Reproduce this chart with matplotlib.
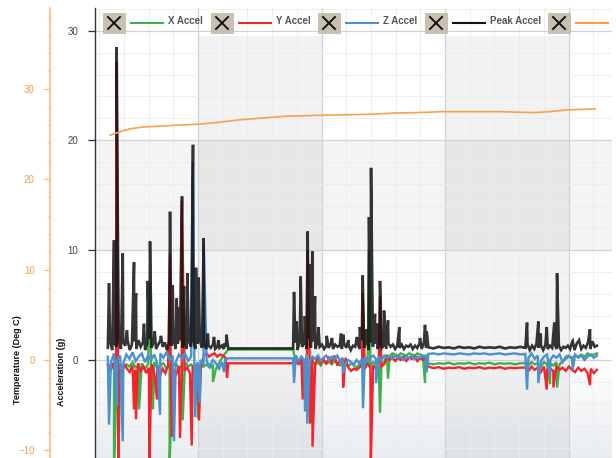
import numpy as np
import matplotlib
matplotlib.use("Agg")
import matplotlib.pyplot as plt
from matplotlib.patches import Rectangle
from matplotlib.lines import Line2D
from matplotlib.ticker import MultipleLocator

plt.rcParams["font.family"] = ["Liberation Sans", "DejaVu Sans"]

# ---- data (time in minutes, acceleration in g, temperature in deg C) ----
# recording segments: two busy stretches, a quiet stretch, a last busy stretch
spans = [(5.4, 24.9), (35.4, 57.3), (57.3, 73.0), (73.0, 84.6)]

peak_seg1 = [1.1, 1.7, 0.9, 1.5, 1.2, 1.9, 1.0, 1.6, 1.3, 1.8,
             0.9, 1.4, 1.7, 1.0, 1.8, 1.2, 1.6, 0.9, 1.5, 1.9,
             1.1, 1.7, 1.0, 1.4, 1.8, 1.2, 1.6, 0.9, 1.7, 1.3,
             1.9, 1.0, 1.5, 1.8, 1.1, 1.6, 1.0, 1.7, 1.2, 1.9,
             1.0, 1.5, 1.8, 1.1, 1.4, 1.0, 1.3, 1.1, 1.4, 1.0,
             1.2, 1.1, 1.3, 1.0, 1.2, 1.05]
peak_seg2 = [1.05, 1.6, 0.9, 1.8, 1.2, 1.5, 1.0, 1.9, 1.1, 1.7,
             1.0, 1.6, 1.2, 1.4, 1.0, 1.3, 1.1, 1.5, 1.0, 1.4,
             1.2, 1.3, 1.0, 1.5, 1.1, 1.4, 0.9, 1.3, 1.2, 1.6,
             1.0, 1.8, 1.1, 1.7, 0.9, 1.6, 1.2, 1.5, 1.0, 1.4,
             1.1, 1.3, 1.0, 1.5, 1.2, 1.4, 1.0, 1.3, 1.1, 1.4,
             1.0, 1.3, 1.2, 1.4, 1.0, 1.3, 1.1, 1.5, 1.0, 1.6,
             1.1, 1.15]
peak_quiet = [1.15, 1.05, 1.2, 1.1, 1.15, 1.05, 1.2, 1.1, 1.15, 1.05,
              1.2, 1.1, 1.15, 1.1, 1.2, 1.05, 1.15, 1.1, 1.2, 1.1]
peak_seg3 = [1.0, 1.4, 0.9, 1.3, 1.0, 1.5, 1.1, 1.3, 0.9, 1.4,
             1.0, 1.3, 1.1, 1.5, 1.0, 1.3, 0.9, 1.2, 1.1, 1.3,
             1.0, 1.7, 0.9, 1.5, 1.8, 1.0, 1.3, 1.1, 1.6, 1.0,
             1.7, 1.2, 1.3]
peak_spike_t = [5.59, 6.40, 6.83, 7.04, 7.81, 8.50, 9.64, 9.96, 11.25, 11.85,
                12.23, 13.0, 14.0, 15.47, 15.91, 16.55, 16.92, 17.2, 17.41, 17.73,
                18.27, 19.19, 19.68, 20.11, 20.92, 21.6, 22.59, 23.3, 24.21, 24.6,
                35.55, 36.0, 36.63, 37.3, 37.76, 38.14, 38.51, 38.95, 39.5, 40.84,
                41.70, 43.16, 43.53, 44.34, 45.75, 46.2, 46.67, 47.32, 47.69, 48.02,
                48.66, 49.04, 49.47, 50.12, 50.77, 52.60, 55.95, 56.76, 57.04,
                73.28, 75.11, 75.50, 76.47, 77.70, 78.14, 80.68, 83.48]
peak_spike_g = [7.0, 10.9, 28.5, 10.2, 9.7, 2.7, 8.9, 6.1, 3.3, 7.2,
                10.8, 2.6, 2.2, 13.5, 6.8, 5.6, 4.8, 7.1, 14.9, 6.7,
                7.9, 19.6, 8.4, 7.5, 11.1, 2.4, 2.1, 1.8, 1.5, 2.3,
                6.2, 3.5, 7.6, 4.0, 11.7, 8.7, 9.9, 5.8, 3.0, 2.2,
                2.0, 2.4, 2.3, 1.8, 2.1, 3.0, 7.7, 2.8, 13.0, 17.5,
                4.2, 3.3, 7.2, 4.5, 3.6, 3.0, 2.0, 3.2, 2.6,
                3.4, 3.5, 2.4, 3.0, 3.4, 7.9, 1.75, 2.8]

z_seg1 = [0.3, -0.2, 0.6, 0.0, 0.4, -0.3, 0.5, 0.1, 0.7, -0.1,
          0.3, 0.6, -0.2, 0.4, 0.0, 0.5, -0.3, 0.6, 0.2, 0.7,
          0.0, 0.4, -0.2, 0.5, 0.1, 0.6, -0.1, 0.3, 0.5, -0.2,
          0.0, -0.4, -0.1, -0.6, 0.0, -0.3, -0.8, -0.2, 0.0, 0.15]
z_seg2 = [0.15, 0.4, -0.1, 0.3, 0.0, 0.5, -0.2, 0.3, 0.1, 0.4,
          -0.1, 0.2, 0.4, 0.0, 0.3, 0.1, 0.4, -0.1, 0.2, -0.3,
          0.0, -0.2, -0.4, 0.0, -0.3, 0.1, 0.3, -0.1, 0.2, 0.4,
          0.1, 0.3, 0.0, 0.4, 0.2, 0.3, 0.1, 0.4, 0.2, 0.3,
          0.0, 0.3, 0.2, 0.4, 0.1, 0.3, 0.2, 0.4, 0.3, 0.55]
z_quiet = [0.55, 0.6, 0.5, 0.6, 0.55, 0.5, 0.6, 0.55, 0.5, 0.6,
           0.55, 0.6, 0.5, 0.55, 0.6, 0.5, 0.55, 0.6, 0.5, 0.55]
z_seg3 = [0.5, 0.2, 0.6, 0.1, 0.4, -0.1, 0.3, 0.5, 0.0, 0.4,
          0.2, 0.5, -0.2, 0.3, 0.4, 0.1, 0.5, 0.2, 0.4, 0.0,
          0.3, 0.5, 0.2, 0.4]
z_spike_t = [5.59, 6.88, 7.81, 13.85, 16.11, 19.19, 19.51, 20.3, 20.92, 24.21,
             35.55, 37.33, 37.70, 43.48, 46.72, 48.82, 57.04,
             73.28, 75.11, 77.0, 80.68]
z_spike_g = [-5.9, -4.2, -7.4, -5.0, -7.4, 18.0, -5.2, -3.9, 10.5, -1.1,
             -2.1, -4.7, -5.8, -1.2, -4.4, -2.1, -1.1,
             -2.7, -2.1, -1.5, -0.9]

y_seg1 = [-0.5, -1.0, -0.3, -0.9, -0.6, -1.2, -0.4, -0.8, -1.1, -0.5,
          -0.9, -0.3, -1.0, -0.6, -1.2, -0.7, -0.4, -1.3, -0.6, -1.5,
          -0.8, -1.2, -0.5, -1.4, -0.9, -1.3, -0.6, -1.5, -1.0, -0.7,
          -1.2, -0.5, -1.0, -0.4, -0.8, 0.4, 0.6, 0.3, 0.5, 0.6,
          0.3, 0.5, 0.4, 0.2, -0.3]
y_seg2 = [-0.3, 0.3, -0.4, 0.1, -0.5, 0.4, -0.2, 0.2, -0.5, 0.3,
          -0.3, 0.1, -0.4, 0.2, -0.2, 0.4, -0.5, 0.0, -0.3, 0.2,
          -0.7, -1.0, -0.8, -0.9, -0.7, -0.4, -0.8, -0.3, -0.7, -0.5,
          -0.8, -0.3, -0.6, -0.4, 0.3, 0.0, 0.3, -0.1, 0.2, 0.0,
          0.3, -0.1, 0.2, 0.1, 0.3, -0.1, 0.2, 0.0, 0.2, -0.6]
y_quiet = [-0.6, -0.75, -0.65, -0.8, -0.7, -0.75, -0.65, -0.8, -0.7, -0.75,
           -0.65, -0.8, -0.7, -0.75, -0.65, -0.8, -0.7, -0.75, -0.7, -0.7]
y_seg3 = [-0.7, -1.0, -0.6, -0.9, -0.7, -1.1, -0.6, -0.9, -0.8, -1.0,
          -0.6, -0.9, -0.7, -1.0, -0.6, -0.9, -1.1, -0.7, -1.0, -0.8,
          -1.2, -0.8, -1.2, -0.9]
y_spike_t = [6.83, 7.09, 9.64, 9.96, 12.12, 13.36, 15.47, 15.74, 17.08, 17.41,
             18.98, 20.16, 24.70, 36.95, 37.76, 38.14, 38.54, 43.5, 46.67, 47.97,
             49.47, 76.47, 77.55, 83.48]
y_spike_g = [27.1, -9.5, -4.5, -5.4, -9.5, -3.6, 9.7, -7.0, -7.1, 14.5,
             -7.8, -5.5, -1.6, -3.6, 10.0, -5.8, -7.9, -2.5, 6.1, -9.8,
             5.8, -2.7, -2.5, -2.3]

x_seg1 = [-0.4, -0.7, -0.2, -0.6, -0.3, -0.8, -0.4, -0.6, -0.2, -0.7,
          -0.5, -0.3, -0.8, -0.4, -0.6, -0.2, -0.7, -0.5, -0.3, -0.8,
          -0.4, -0.6, -0.3, -0.7, -0.5, -0.2, -0.6, -0.4, -0.7, -0.3,
          -0.5, -0.6, -0.4, -0.7, -0.5, -0.8, -0.3, 0.2, 0.6, 0.95]
x_seg2 = [0.95, -0.2, -0.4, -0.1, -0.5, -0.2, -0.3, -0.1, -0.4, -0.2,
          -0.5, -0.1, -0.3, -0.2, -0.4, -0.1, -0.3, -0.5, -0.2, -0.4,
          -0.6, -0.3, -0.5, -0.7, -0.4, -0.2, -0.5, -0.3, -0.6, -0.2,
          -0.4, -0.3, -0.5, -0.2, 0.5, 0.4, 0.6, 0.5, 0.4, 0.6,
          0.5, 0.4, 0.6, 0.5, 0.4, 0.6, 0.5, 0.4, 0.5, -0.3]
x_quiet = [-0.3, -0.4, -0.3, -0.35, -0.25, -0.4, -0.3, -0.35, -0.25, -0.4,
           -0.3, -0.35, -0.25, -0.4, -0.3, -0.35, -0.3, -0.4, -0.3, -0.3]
x_seg3 = [-0.3, -0.5, -0.2, -0.4, -0.3, -0.6, -0.2, -0.4, -0.3, -0.5,
          -0.2, -0.4, -0.1, 0.1, 0.3, 0.2, 0.4, 0.3, 0.5, 0.3,
          0.6, 0.4, 0.5, 0.6]
x_spike_t = [6.40, 7.21, 10.45, 12.23, 12.71, 15.40, 17.52, 20.0, 22.43,
             47.69, 49.47, 50.77, 56.76, 77.0, 78.14]
x_spike_g = [-9.5, -6.6, -4.5, 7.0, -4.5, -9.5, -5.5, -5.3, -2.0,
             10.0, -4.8, -1.7, -2.1, -2.2, -2.5]

temp_t = [5.75, 7.5, 9.0, 11.0, 13.9, 16.5, 19.8, 23.0, 26.8, 30.5, 34.4, 39.8,
          43.5, 47.4, 52.0, 55.5, 59.7, 64.0, 68.9, 71.5, 74.3, 77.0, 79.8, 82.0, 84.3]
temp_c = [24.9, 25.3, 25.6, 25.8, 25.9, 26.0, 26.1, 26.3, 26.6, 26.8, 27.0, 27.1,
          27.15, 27.2, 27.35, 27.4, 27.5, 27.5, 27.5, 27.45, 27.4, 27.5, 27.7, 27.75, 27.8]

legend_labels = ["X Accel", "Y Accel", "Z Accel", "Peak Accel", ""]
legend_colors = ["#3fb04a", "#f0262b", "#4b90d0", "#111111", "#f7a14e"]


def build(segments, spike_t, spike_g):
    t = np.concatenate([np.linspace(a, b, len(v)) for (a, b), v in zip(spans, segments)])
    g = np.concatenate([np.asarray(v, float) for v in segments])
    t = np.concatenate([t, spike_t])
    g = np.concatenate([g, spike_g])
    order = np.argsort(t, kind="stable")
    return t[order], g[order]


series = [
    build([x_seg1, x_seg2, x_quiet, x_seg3], x_spike_t, x_spike_g),
    build([y_seg1, y_seg2, y_quiet, y_seg3], y_spike_t, y_spike_g),
    build([z_seg1, z_seg2, z_quiet, z_seg3], z_spike_t, z_spike_g),
    build([peak_seg1, peak_seg2, peak_quiet, peak_seg3], peak_spike_t, peak_spike_g),
]

# ---- figure ----
W, H = 616, 458
fig = plt.figure(figsize=(W / 100, H / 100), dpi=100)
ax = fig.add_axes([95 / W, 0, 517 / W, 450 / H])
x0, x1 = 3.32, 87.04
ax.set_xlim(x0, x1)
ax.set_ylim(-8.93, 32.06)

# background: shaded columns, shaded 10..20 band, fade below zero
for a in (20, 40), (60, 80):
    ax.fill_between(a, -9, 29.5, color="#f2f2f2", lw=0, zorder=0.2)
ax.fill_between([x0, x1], 10, 20, color="#000000", alpha=0.045, lw=0, zorder=0.3)
alpha = np.linspace(0, 0.13, 64)[:, None]
grad = np.ones((64, 1, 4)) * np.array([0.33, 0.43, 0.56, 1.0])
grad[:, :, 3] = alpha
ax.imshow(grad, extent=[x0, x1, -8.93, 0], aspect="auto", origin="upper", zorder=0.4)

ax.xaxis.set_major_locator(MultipleLocator(20))
ax.xaxis.set_minor_locator(MultipleLocator(4))
ax.yaxis.set_major_locator(MultipleLocator(10))
ax.yaxis.set_minor_locator(MultipleLocator(2))
ax.grid(which="major", color="#d2d2d2", lw=0.9, zorder=0.5)
ax.grid(which="minor", color="#ececec", lw=0.6, zorder=0.45)
ax.set_axisbelow(True)
ax.tick_params(axis="x", which="both", bottom=False, labelbottom=False)
ax.tick_params(axis="y", which="major", length=5, width=0.9, color="#333333",
               labelsize=7, labelcolor="#444444", pad=7)
ax.tick_params(axis="y", which="minor", length=0)
for s in ("top", "right", "bottom"):
    ax.spines[s].set_visible(False)
ax.spines["left"].set_color("#333333")
ax.spines["left"].set_linewidth(1.0)

# thicker strokes so the noisy stretches read as dense bands
widths = [1.7, 1.7, 1.7, 1.9]
for (t, g), color, z, lw in zip(series, legend_colors[:4], [3, 4, 5, 6], widths):
    kw = dict(alpha=0.85) if z == 6 else {}
    ax.plot(t, g, color=color, lw=lw, zorder=z, solid_joinstyle="miter", **kw)

tax = ax.twinx()
tax.set_ylim(-10.85, 38.98)
tax.yaxis.tick_left()
tax.spines["left"].set_position(("axes", -45 / 517))
for s in ("top", "right", "bottom"):
    tax.spines[s].set_visible(False)
tax.spines["left"].set_color("#fdbb80")
tax.spines["left"].set_linewidth(1.2)
tax.yaxis.set_major_locator(MultipleLocator(10))
tax.yaxis.set_minor_locator(MultipleLocator(2))
tax.tick_params(axis="y", which="major", length=5, width=0.9, color="#fdbb80",
                labelsize=7, labelcolor="#f5a04f", pad=6)
tax.tick_params(axis="y", which="minor", length=2.5, width=0.7, color="#fdd1a8")
tax.plot(temp_t, temp_c, color="#f7a14e", lw=1.2, zorder=7)

fig.text(18 / W, 1 - 360 / H, "Temperature (Deg C)", rotation=90, ha="center", va="center",
         fontsize=6.5, fontweight="bold", color="#111111")
fig.text(62 / W, 1 - 372 / H, "Acceleration (g)", rotation=90, ha="center", va="center",
         fontsize=6.5, fontweight="bold", color="#111111")

# ---- legend strip ----
box_left = [103, 211, 318, 425, 548]
for bx, label, color in zip(box_left, legend_labels, legend_colors):
    fig.add_artist(Rectangle((bx / W, 1 - 33 / H), 22 / W, 20 / H, transform=fig.transFigure,
                             facecolor="#c9c1b0", edgecolor="#bdb5a3", lw=0.5))
    for ya, yb in ((17, 29), (29, 17)):
        fig.add_artist(Line2D([(bx + 5) / W, (bx + 17) / W], [1 - ya / H, 1 - yb / H],
                              transform=fig.transFigure, color="#111111", lw=1.4))
    fig.add_artist(Line2D([(bx + 28) / W, (bx + 60) / W], [1 - 23 / H, 1 - 23 / H],
                          transform=fig.transFigure, color=color, lw=1.5))
    if label:
        fig.text((bx + 65) / W, 1 - 20.5 / H, label, ha="left", va="center",
                 fontsize=7, fontweight="bold", color="#555555")

fig.savefig("out.png", dpi=100)
